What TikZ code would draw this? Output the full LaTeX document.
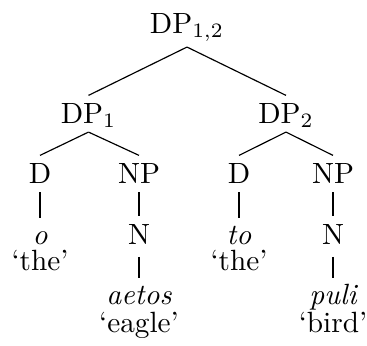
\documentclass[tikz,border=0pt]{standalone}
\usepackage{amsmath}
\usepackage{tikz}
\usetikzlibrary{positioning,calc}
\tikzset{
    cat/.style={inner sep=0pt,outer ysep=2.6pt,text height=6.83pt,text depth=0.5pt,anchor=base},
    leaf/.style={inner sep=0pt,outer ysep=2pt,text height=6.83pt,text depth=0pt,anchor=base,font=\itshape},
    gloss/.style={inner sep=0pt,anchor=base},
    branch/.style={-,line width=0.4pt},
}
\begin{document}
\begin{tikzpicture}[x=0.3415pt,y=-0.3415pt]
                \useasboundingbox (0,0) rectangle (367,345);
                \node[cat,text depth=2.2pt] (dp12) at (187,33) {DP$_{1,2}$};
                \node[cat] (dp1) at (88.5,123) {DP$_1$};
                \node[cat] (dp2) at (286,123) {DP$_2$};
                \node[cat] (d1) at (40,183) {D};
                \node[cat] (np1) at (139,183) {NP};
                \node[cat] (d2) at (239,183) {D};
                \node[cat] (np2) at (333,183) {NP};
                \node[leaf] (o) at (40,244) {o};
                \node[cat,text depth=1.8pt] (n1) at (139,244) {N};
                \node[leaf] (to) at (239,244) {to};
                \node[cat,text depth=1.8pt] (n2) at (333,244) {N};
                \node[gloss] (the1) at (40,270) {`the'};
                \node[gloss] (the2) at (239,270) {`the'};
                \node[leaf] (aetos) at (139,304) {aetos};
                \node[leaf] (puli) at (333,304) {puli};
                \node[gloss] (eagle) at (139,332) {`eagle'};
                \node[gloss] (bird) at (333,332) {`bird'};
                \draw[branch] (dp12.south) -- (dp1.north);
                \draw[branch] (dp12.south) -- (dp2.north);
                \draw[branch] (dp1.south) -- (d1.north);
                \draw[branch] (dp1.south) -- (np1.north);
                \draw[branch] (dp2.south) -- (d2.north);
                \draw[branch] (dp2.south) -- (np2.north);
                \draw[branch] (d1.south) -- (o.north);
                \draw[branch] (np1.south) -- (n1.north);
                \draw[branch] (d2.south) -- (to.north);
                \draw[branch] (np2.south) -- (n2.north);
                \draw[branch] (n1.south) -- (aetos.north);
                \draw[branch] (n2.south) -- (puli.north);
            \end{tikzpicture}
\end{document}
